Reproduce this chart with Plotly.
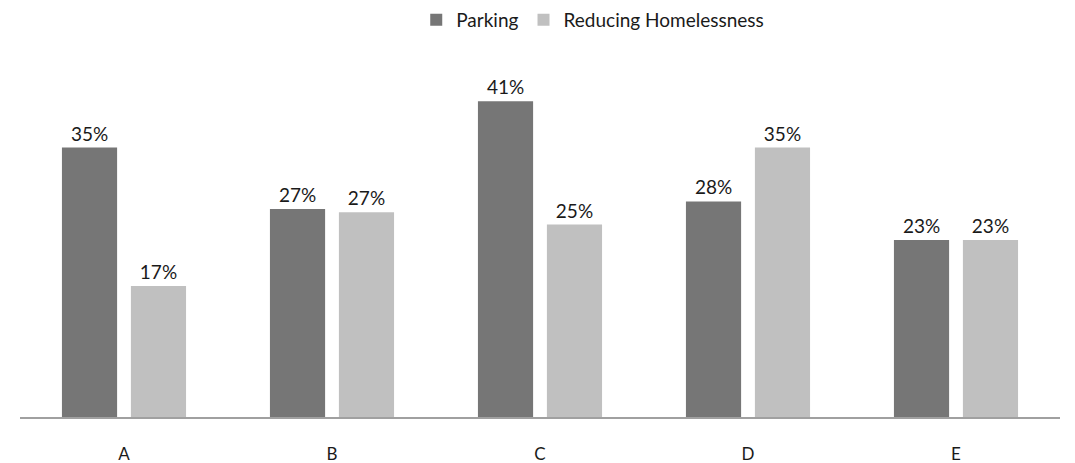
import plotly.graph_objects as go

categories = ["A", "B", "C", "D", "E"]
parking = [35, 27, 41, 28, 23]
homelessness = [17, 26.6, 25, 35, 23]
series_names = ["Parking", "Reducing Homelessness"]
colors = ["#767676", "#c0c0c0"]

FONT = "Lato, DejaVu Sans, sans-serif"

fig = go.Figure()
for name, vals, col in zip(series_names, [parking, homelessness], colors):
    fig.add_trace(go.Bar(
        x=categories, y=vals, name=name,
        marker=dict(color=col, line=dict(width=0)),
        texttemplate="%{y:.0f}%", textposition="outside",
        textfont=dict(size=19, color="#1a1a1a", family=FONT),
        cliponaxis=False,
    ))

fig.update_layout(
    width=1075, height=463,
    margin=dict(l=12, r=23, t=24, b=54, autoexpand=False),
    paper_bgcolor="white", plot_bgcolor="white",
    barmode="group", bargap=0.337, bargroupgap=0.2,
    font=dict(family=FONT, size=18, color="#1a1a1a"),
    showlegend=True,
    legend=dict(orientation="h", x=0.381, xanchor="left",
                yref="container", y=1 - 12 / 463, yanchor="middle",
                font=dict(size=19, color="#1a1a1a"), itemwidth=30,
                traceorder="normal"),
    xaxis=dict(showline=True, linecolor="#a0a0a0", linewidth=1.5,
               ticks="", tickfont=dict(size=17), ticklabelstandoff=21,
               showgrid=False, automargin=False),
    yaxis=dict(range=[0, 50], visible=False, showgrid=False, zeroline=False,
               automargin=False),
)
fig.write_html("out.html")
